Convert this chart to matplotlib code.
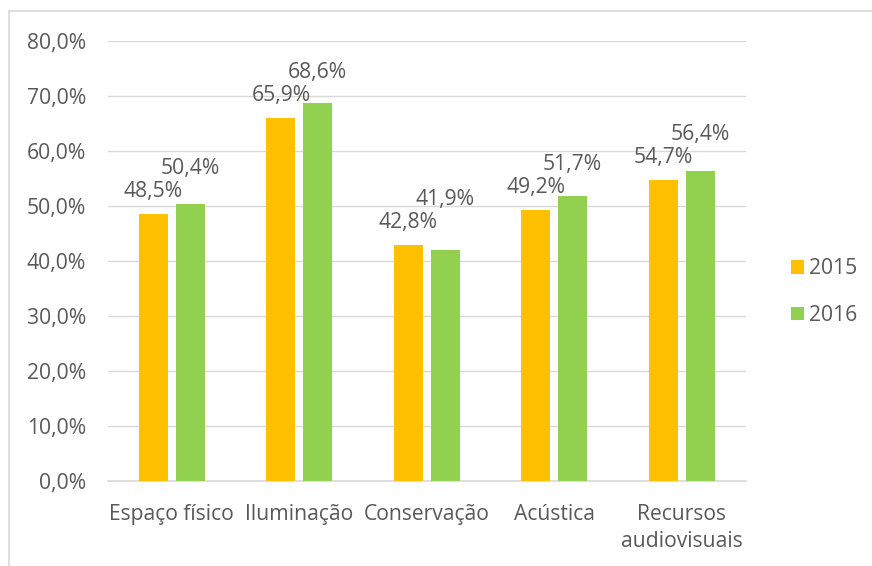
import matplotlib

matplotlib.use("Agg")
import matplotlib.pyplot as plt
from matplotlib.lines import Line2D
from matplotlib.ticker import FuncFormatter
import numpy as np

categories = ["Espaço físico", "Iluminação", "Conservação", "Acústica", "Recursos\naudiovisuais"]
series_names = ["2015", "2016"]
values_2015 = [48.5, 65.9, 42.8, 49.2, 54.7]
values_2016 = [50.4, 68.6, 41.9, 51.7, 56.4]

COLORS = {"2015": "#FFC000", "2016": "#92D050"}
TEXT = "#595959"
GRID = "#D9D9D9"

plt.rcParams.update({"font.family": ["Open Sans", "DejaVu Sans"], "font.size": 15.2})

W, H = 872, 566
fig = plt.figure(figsize=(W / 100, H / 100), dpi=100)
ax = fig.add_axes([108 / W, 85.3 / H, 637.5 / W, 440 / H])

x = np.arange(len(categories))
bar_w = 0.227
offset = bar_w / 2 + 0.03
ax.bar(x - offset, values_2015, width=bar_w, color=COLORS["2015"], label="2015", zorder=3)
ax.bar(x + offset, values_2016, width=bar_w, color=COLORS["2016"], label="2016", zorder=3)

ax.set_xlim(-0.5, len(categories) - 0.5)
ax.set_ylim(0, 80)
ax.set_yticks(np.arange(0, 81, 10))
ax.yaxis.set_major_formatter(FuncFormatter(lambda v, _: f"{v:.1f}%".replace(".", ",")))
ax.set_xticks(x, categories)
for lbl in ax.get_xticklabels():
    lbl.set_linespacing(1.35)
ax.grid(True, axis="y", color=GRID, linewidth=1.0, zorder=0)
for side in ["top", "right", "left"]:
    ax.spines[side].set_visible(False)
ax.spines["bottom"].set_color(GRID)
ax.spines["bottom"].set_linewidth(1.2)
ax.tick_params(axis="both", length=0, colors=TEXT)
ax.tick_params(axis="y", pad=16)
ax.tick_params(axis="x", pad=17)


def fmt(v):
    return f"{v:.1f}%".replace(".", ",")


# label gaps in data units (axis is 440 px tall for 80 points)
px = 80 / 440
for i in range(len(categories)):
    y15 = values_2015[i] + 17 * px
    y16 = max(values_2016[i] + 17 * px, y15 + 23 * px)
    ax.text(x[i] - offset, y15, fmt(values_2015[i]), ha="center", va="baseline", color=TEXT)
    ax.text(x[i] + offset, y16, fmt(values_2016[i]), ha="center", va="baseline", color=TEXT)

leg = fig.legend(
    loc="center left",
    bbox_to_anchor=(772 / W, 1 - 292 / H),
    frameon=False,
    handlelength=0.6,
    handleheight=0.6,
    handletextpad=0.25,
    labelspacing=1.2,
)
for t in leg.get_texts():
    t.set_color(TEXT)

# chart border (only top and left edges fall inside the image)
fig.add_artist(Line2D([9 / W, 1], [1 - 11 / H, 1 - 11 / H], color=GRID, linewidth=1.2))
fig.add_artist(Line2D([9 / W, 9 / W], [0, 1 - 11 / H], color=GRID, linewidth=1.2))

fig.savefig("out.png", dpi=100)
